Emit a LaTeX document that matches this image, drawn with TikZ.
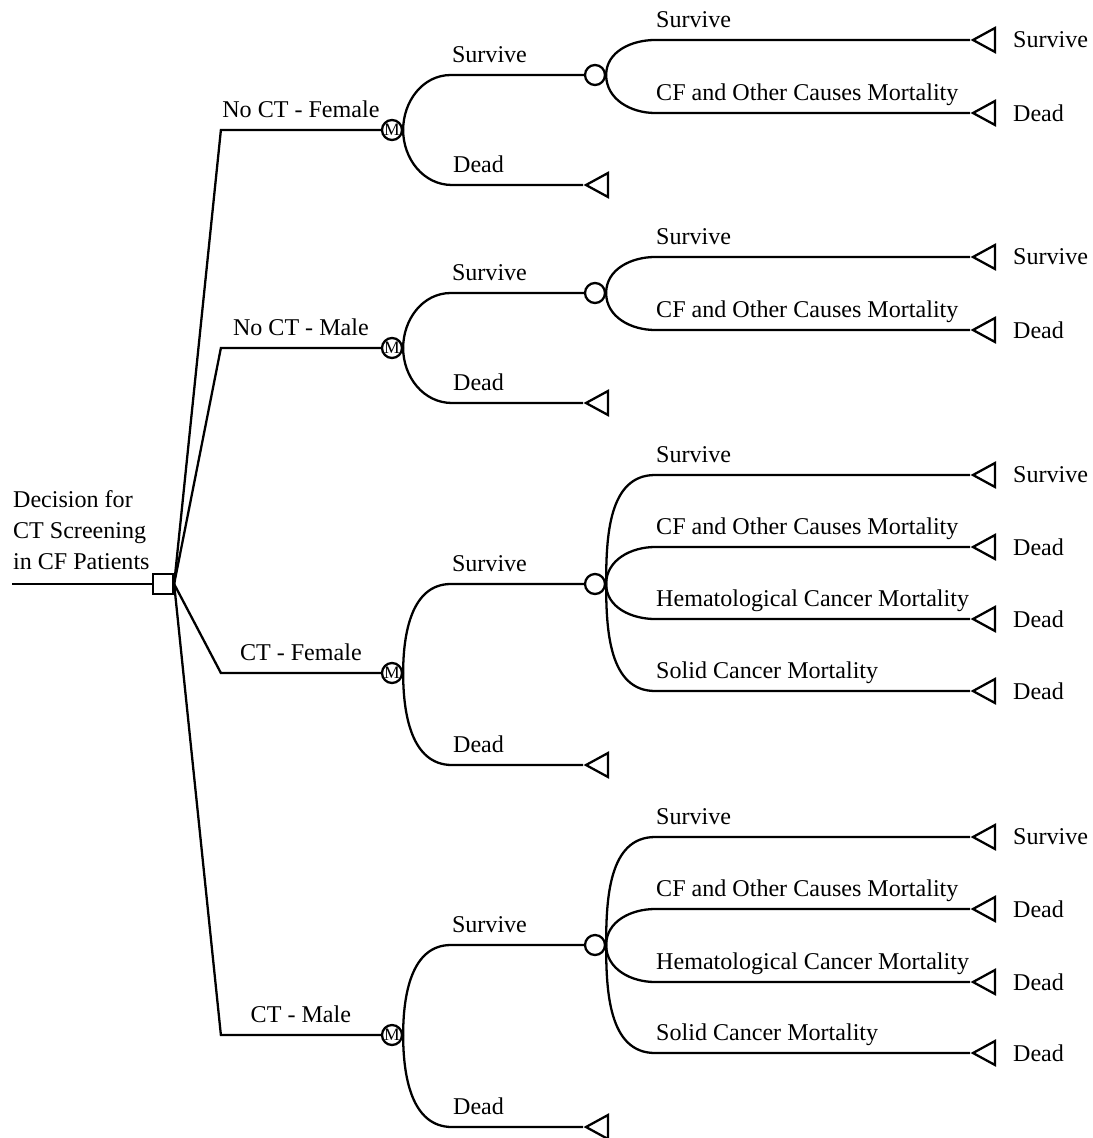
\documentclass[tikz,border=0pt]{standalone}
\usepackage{fontspec}
\setmainfont{Liberation Serif}
\usetikzlibrary{shapes}

\begin{document}
\begin{tikzpicture}[x=0.02cm,y=-0.02cm,line width=1.3pt,font=\fontsize{13.7}{17.6}\selectfont,decision/.style={rectangle, draw, minimum size=4mm, inner sep=0},markov/.style={circle, draw, minimum size=4mm, inner sep=0, font=\fontsize{10}{10}\selectfont},chance/.style={circle, draw, minimum size=4mm, inner sep=0},terminal/.style={isosceles triangle, isosceles triangle stretches, shape border rotate=180, draw, minimum width=4.8mm, minimum height=4.4mm, inner sep=0, anchor=apex},split/.style={midway, anchor=base, inner sep=0, yshift=7pt},lbl/.style={pos=0, anchor=base west, inner sep=0, yshift=7pt},outcome/.style={label distance=2mm}]
                \useasboundingbox (0,0) rectangle (1092,1138);
                \coordinate (start) at (12,584);
                \node[decision] (dec) at (163,584) {};
                \node[align=left, anchor=south west, inner sep=0] (title) at (12,571) {Decision for\\CT Screening\\in CF Patients};
                \node[markov] (mk_f) at (392,130) {M};
                \node[markov] (mk_m) at (392,348) {M};
                \node[markov] (mk_ctf) at (392,673) {M};
                \node[markov] (mk_ctm) at (392,1035) {M};
                \node[chance] (ch_f) at (595,75) {};
                \node[chance] (ch_m) at (595,293) {};
                \node[chance] (ch_ctf) at (595,584) {};
                \node[chance] (ch_ctm) at (595,945) {};
                \node[terminal] (d_f) at (583,185) {};
                \node[terminal] (d_m) at (583,403) {};
                \node[terminal] (d_ctf) at (583,765) {};
                \node[terminal] (d_ctm) at (583,1127) {};
                \node[terminal, label={[outcome]right:Survive}] (t_f1) at (970,40) {};
                \node[terminal, label={[outcome]right:Dead}] (t_f2) at (970,113) {};
                \node[terminal, label={[outcome]right:Survive}] (t_m1) at (970,257) {};
                \node[terminal, label={[outcome]right:Dead}] (t_m2) at (970,330) {};
                \node[terminal, label={[outcome]right:Survive}] (t_ctf1) at (970,475) {};
                \node[terminal, label={[outcome]right:Dead}] (t_ctf2) at (970,547) {};
                \node[terminal, label={[outcome]right:Dead}] (t_ctf3) at (970,619) {};
                \node[terminal, label={[outcome]right:Dead}] (t_ctf4) at (970,691) {};
                \node[terminal, label={[outcome]right:Survive}] (t_ctm1) at (970,837) {};
                \node[terminal, label={[outcome]right:Dead}] (t_ctm2) at (970,909) {};
                \node[terminal, label={[outcome]right:Dead}] (t_ctm3) at (970,982) {};
                \node[terminal, label={[outcome]right:Dead}] (t_ctm4) at (970,1053) {};
                % decision
                \draw (start) -- (dec);
                \draw (dec.east) -- ([xshift=-3.2cm]mk_f.west) -- node[split]{No CT - Female} (mk_f);
                \draw (dec.east) -- ([xshift=-3.2cm]mk_m.west) -- node[split]{No CT - Male} (mk_m);
                \draw (dec.east) -- ([xshift=-3.2cm]mk_ctf.west) -- node[split]{CT - Female} (mk_ctf);
                \draw (dec.east) -- ([xshift=-3.2cm]mk_ctm.west) -- node[split]{CT - Male} (mk_ctm);
                % markov states
                \draw (mk_f.east) to[out=90,in=180] ([xshift=-2.66cm]ch_f.west) -- node[lbl]{Survive} (ch_f);
                \draw (mk_f.east) to[out=-90,in=180] ([xshift=-2.62cm]d_f.apex) -- node[lbl]{Dead} (d_f.apex);
                \draw (mk_m.east) to[out=90,in=180] ([xshift=-2.66cm]ch_m.west) -- node[lbl]{Survive} (ch_m);
                \draw (mk_m.east) to[out=-90,in=180] ([xshift=-2.62cm]d_m.apex) -- node[lbl]{Dead} (d_m.apex);
                \draw (mk_ctf.east) to[out=90,in=180] ([xshift=-2.66cm]ch_ctf.west) -- node[lbl]{Survive} (ch_ctf);
                \draw (mk_ctf.east) to[out=-90,in=180] ([xshift=-2.62cm]d_ctf.apex) -- node[lbl]{Dead} (d_ctf.apex);
                \draw (mk_ctm.east) to[out=90,in=180] ([xshift=-2.66cm]ch_ctm.west) -- node[lbl]{Survive} (ch_ctm);
                \draw (mk_ctm.east) to[out=-90,in=180] ([xshift=-2.62cm]d_ctm.apex) -- node[lbl]{Dead} (d_ctm.apex);
                % transitions
                \draw (ch_f.east) to[out=90,in=180] ([xshift=-6.3cm]t_f1.apex) -- node[lbl]{Survive} (t_f1.apex);
                \draw (ch_f.east) to[out=-90,in=180] ([xshift=-6.3cm]t_f2.apex) -- node[lbl]{CF and Other Causes Mortality} (t_f2.apex);
                \draw (ch_m.east) to[out=90,in=180] ([xshift=-6.3cm]t_m1.apex) -- node[lbl]{Survive} (t_m1.apex);
                \draw (ch_m.east) to[out=-90,in=180] ([xshift=-6.3cm]t_m2.apex) -- node[lbl]{CF and Other Causes Mortality} (t_m2.apex);
                \draw (ch_ctf.east) to[out=90,in=180] ([xshift=-6.3cm]t_ctf1.apex) -- node[lbl]{Survive} (t_ctf1.apex);
                \draw (ch_ctf.east) to[out=90,in=180] ([xshift=-6.3cm]t_ctf2.apex) -- node[lbl]{CF and Other Causes Mortality} (t_ctf2.apex);
                \draw (ch_ctf.east) to[out=-90,in=180] ([xshift=-6.3cm]t_ctf3.apex) -- node[lbl]{Hematological Cancer Mortality} (t_ctf3.apex);
                \draw (ch_ctf.east) to[out=-90,in=180] ([xshift=-6.3cm]t_ctf4.apex) -- node[lbl]{Solid Cancer Mortality} (t_ctf4.apex);
                \draw (ch_ctm.east) to[out=90,in=180] ([xshift=-6.3cm]t_ctm1.apex) -- node[lbl]{Survive} (t_ctm1.apex);
                \draw (ch_ctm.east) to[out=90,in=180] ([xshift=-6.3cm]t_ctm2.apex) -- node[lbl]{CF and Other Causes Mortality} (t_ctm2.apex);
                \draw (ch_ctm.east) to[out=-90,in=180] ([xshift=-6.3cm]t_ctm3.apex) -- node[lbl]{Hematological Cancer Mortality} (t_ctm3.apex);
                \draw (ch_ctm.east) to[out=-90,in=180] ([xshift=-6.3cm]t_ctm4.apex) -- node[lbl]{Solid Cancer Mortality} (t_ctm4.apex);
            \end{tikzpicture}
\end{document}
